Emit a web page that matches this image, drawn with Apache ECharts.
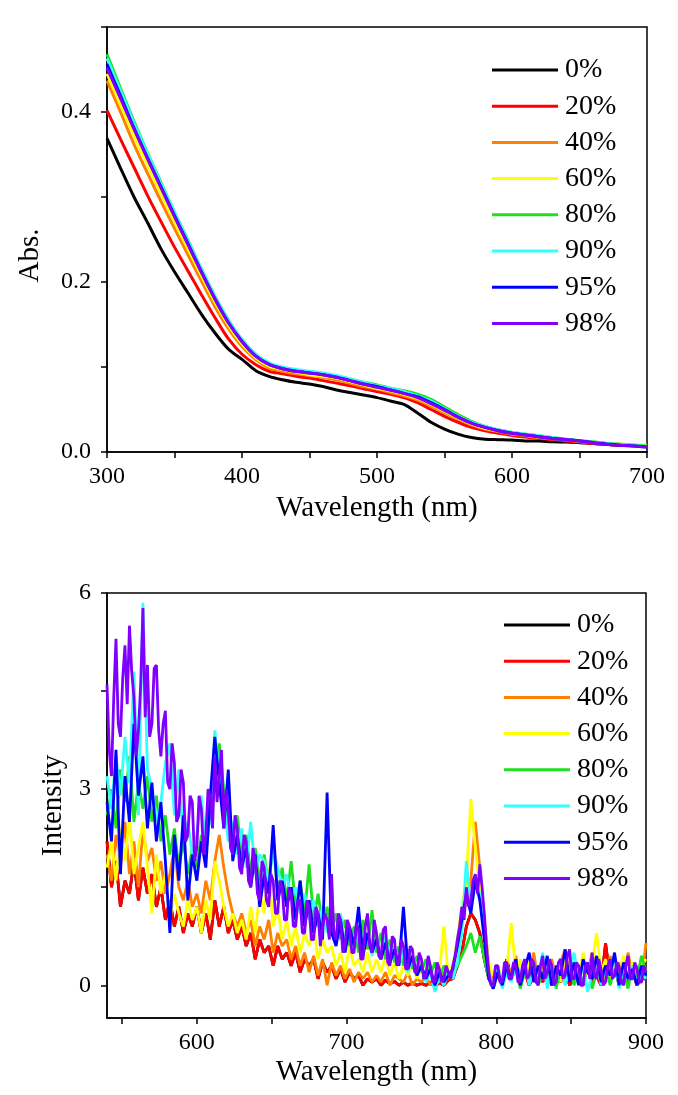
<!DOCTYPE html>
<html>
<head>
<meta charset="utf-8">
<script src="https://cdn.jsdelivr.net/npm/echarts@6/dist/echarts.min.js"></script>
<style>
html,body{margin:0;padding:0;background:#fff;}
#chart{width:678px;height:1095px;}
</style>
</head>
<body>
<div id="chart"></div>
<script>
// ---------- Data ----------
const seriesNames = ['0%', '20%', '40%', '60%', '80%', '90%', '95%', '98%'];
const colors = ['#000000', '#ff0000', '#ff8000', '#ffff00', '#1ee01e', '#33ffff', '#0000ff', '#8000ff'];

// Top panel: absorbance, wavelength 300-700 nm every 10 nm
const absWavelength = [300,310,320,330,340,350,360,370,380,390,400,410,420,430,440,450,460,470,480,490,500,510,520,530,540,550,560,570,580,590,600,610,620,630,640,650,660,670,680,690,700];
const abs0  = [0.369,0.334,0.300,0.270,0.239,0.212,0.187,0.162,0.140,0.121,0.109,0.096,0.089,0.085,0.082,0.080,0.077,0.073,0.070,0.067,0.064,0.060,0.056,0.046,0.035,0.027,0.021,0.017,0.015,0.0145,0.014,0.013,0.0128,0.012,0.0118,0.011,0.010,0.009,0.008,0.0075,0.0067];
const abs20 = [0.402,0.368,0.335,0.302,0.271,0.241,0.213,0.185,0.158,0.133,0.115,0.103,0.095,0.092,0.089,0.087,0.084,0.081,0.078,0.0745,0.071,0.068,0.064,0.058,0.050,0.042,0.035,0.029,0.025,0.022,0.0195,0.0175,0.016,0.0145,0.013,0.0115,0.010,0.009,0.008,0.0075,0.0067];
const abs40 = [0.437,0.400,0.362,0.328,0.295,0.263,0.232,0.201,0.171,0.145,0.124,0.109,0.099,0.095,0.092,0.090,0.088,0.085,0.081,0.077,0.074,0.070,0.066,0.061,0.054,0.046,0.039,0.032,0.027,0.024,0.021,0.019,0.017,0.0155,0.014,0.0125,0.011,0.010,0.009,0.0082,0.0075];
const abs60 = [0.445,0.409,0.372,0.338,0.304,0.271,0.239,0.207,0.176,0.149,0.127,0.111,0.101,0.097,0.094,0.091,0.089,0.087,0.083,0.079,0.075,0.072,0.068,0.063,0.056,0.048,0.040,0.033,0.028,0.025,0.022,0.020,0.018,0.016,0.0145,0.013,0.0115,0.0105,0.0095,0.0085,0.008];
const abs80 = [0.468,0.428,0.389,0.352,0.317,0.282,0.249,0.215,0.183,0.155,0.132,0.115,0.104,0.099,0.096,0.094,0.092,0.089,0.086,0.082,0.079,0.075,0.072,0.068,0.062,0.053,0.044,0.036,0.030,0.026,0.023,0.021,0.019,0.017,0.015,0.0135,0.012,0.010,0.009,0.008,0.007];
const abs90 = [0.463,0.425,0.387,0.351,0.316,0.282,0.248,0.215,0.183,0.155,0.132,0.115,0.105,0.100,0.097,0.095,0.093,0.090,0.086,0.082,0.078,0.075,0.071,0.066,0.060,0.051,0.042,0.035,0.030,0.026,0.023,0.021,0.019,0.017,0.015,0.013,0.0115,0.010,0.009,0.0075,0.0065];
const abs95 = [0.456,0.419,0.381,0.346,0.312,0.278,0.245,0.212,0.180,0.152,0.130,0.113,0.103,0.098,0.095,0.093,0.091,0.088,0.084,0.080,0.077,0.073,0.069,0.065,0.058,0.050,0.041,0.034,0.029,0.025,0.022,0.020,0.018,0.016,0.0145,0.013,0.011,0.0095,0.008,0.007,0.006];
const abs98 = [0.452,0.416,0.380,0.345,0.311,0.277,0.244,0.211,0.180,0.152,0.130,0.113,0.103,0.098,0.095,0.093,0.091,0.088,0.084,0.080,0.076,0.073,0.069,0.064,0.057,0.049,0.041,0.034,0.029,0.025,0.022,0.020,0.018,0.016,0.0145,0.013,0.011,0.009,0.008,0.007,0.006];

// Bottom panel: intensity, wavelength 540-900 nm every 3 nm
const plWavelength = [540,543,546,549,552,555,558,561,564,567,570,573,576,579,582,585,588,591,594,597,600,603,606,609,612,615,618,621,624,627,630,633,636,639,642,645,648,651,654,657,660,663,666,669,672,675,678,681,684,687,690,693,696,699,702,705,708,711,714,717,720,723,726,729,732,735,738,741,744,747,750,753,756,759,762,765,768,771,774,777,780,783,786,789,792,795,798,801,804,807,810,813,816,819,822,825,828,831,834,837,840,843,846,849,852,855,858,861,864,867,870,873,876,879,882,885,888,891,894,897,900];
const pl0 = [2.2,1.5,1.9,1.2,1.6,1.4,1.9,1.3,1.8,1.4, 1.7,1.2,1.5,1.0,1.3,0.9,1.2,0.8,1.1,0.9, 1.2,0.8,1.1,0.7,1.3,0.9,1.2,0.8,1.0,0.7, 0.9,0.6,0.8,0.4,0.7,0.5,0.6,0.3,0.6,0.4, 0.5,0.3,0.5,0.2,0.4,0.3,0.4,0.1,0.35,0.2, 0.3,0.1,0.25,0.05,0.2,0.1,0.15,0.0,0.1,0.05, 0.1,0.0,0.08,0.02,0.06,0.0,0.05,0.0,0.04,0.0, 0.03,0.0,0.05,-0.02,0.04,0.0,0.08,0.1,0.3,0.5, 0.9,1.1,1.0,0.8,0.4,0.1,0.05,0.15,0.0,0.4, 0.1,0.25,0.05,0.2,0.0,0.15,0.3,0.05,0.2,0.0, 0.15,0.05,0.25,0.0,0.1,0.2,0.0,0.35,0.05,0.15, 0.0,0.64,0.1,0.3,0.0,0.15,0.05,0.2,0.0,0.1, 0.1];
const pl20 = [2.2,1.5,1.9,1.2,1.6,1.4,1.9,1.3,1.8,1.4, 1.7,1.2,1.5,1.0,1.3,0.9,1.2,0.8,1.1,0.9, 1.2,0.8,1.1,0.7,1.3,0.9,1.2,0.8,1.0,0.7, 0.9,0.6,0.8,0.4,0.7,0.5,0.6,0.3,0.6,0.4, 0.5,0.3,0.5,0.2,0.4,0.3,0.4,0.1,0.35,0.2, 0.3,0.1,0.25,0.05,0.2,0.1,0.15,0.0,0.1,0.05, 0.1,0.0,0.08,0.02,0.06,0.0,0.05,0.0,0.04,0.0, 0.03,0.0,0.05,-0.02,0.04,0.0,0.08,0.1,0.3,0.5, 0.9,1.1,1.0,0.8,0.4,0.1,0.05,0.15,0.0,0.4, 0.1,0.25,0.05,0.2,0.0,0.15,0.3,0.05,0.2,0.0, 0.15,0.05,0.25,0.0,0.1,0.2,0.0,0.35,0.05,0.15, 0.0,0.64,0.1,0.3,0.0,0.15,0.05,0.2,0.0,0.1, 0.1];
const pl40 = [2.0,1.6,2.3,1.8,2.5,1.7,2.2,1.5,2.4,1.9, 2.1,1.6,1.9,1.4,1.7,2.1,1.5,1.3,1.6,1.2, 1.4,1.1,1.6,1.3,1.9,2.3,1.8,1.4,1.1,0.9, 1.1,0.8,1.0,0.6,0.9,0.7,1.0,0.5,0.8,0.6, 0.7,0.4,0.6,0.3,0.5,0.2,0.45,0.15,0.4,0.0, 0.35,0.15,0.3,0.1,0.25,0.05,0.2,0.1,0.2,0.05, 0.15,0.05,0.2,0.0,0.15,0.1,0.05,0.2,0.0,0.1, 0.05,0.15,0.0,0.1,0.05,0.2,0.1,0.3,0.6,1.0, 1.3,1.6,2.5,1.8,1.0,0.3,0.1,0.25,0.05,0.3, 0.2,0.45,0.1,0.35,0.15,0.5,0.05,0.3,0.2,0.4, 0.1,0.35,0.55,0.15,0.3,0.05,0.4,0.2,0.5,0.1, 0.3,0.05,0.45,0.2,0.35,0.1,0.5,0.15,0.3,0.05, 0.65];
const pl60 = [1.8,2.2,1.6,2.4,1.9,2.6,1.7,2.1,2.5,1.8, 1.1,2.0,1.4,1.7,1.0,1.4,1.1,0.9,1.3,1.0, 1.2,0.8,1.3,1.0,1.9,1.6,1.2,0.9,1.1,0.8, 1.0,0.7,1.2,0.8,1.4,1.1,1.8,0.9,1.2,0.7, 1.0,0.6,0.9,0.5,0.8,0.6,0.9,0.4,0.7,0.5, 0.6,0.3,0.5,0.2,0.6,0.3,0.4,0.2,0.5,0.2, 0.4,0.2,0.45,0.15,0.35,0.1,0.3,0.15,0.4,0.1, 0.25,0.1,0.3,0.05,0.2,0.9,0.15,0.3,0.7,1.2, 1.6,2.85,2.1,1.5,0.9,0.35,0.15,0.3,0.1,0.25, 0.95,0.2,0.4,0.1,0.35,0.05,0.3,0.15,0.45,0.1, 0.3,0.05,0.4,0.2,0.35,0.1,0.5,0.15,0.3,0.8, 0.2,0.4,0.05,0.3,0.15,0.45,0.1,0.35,0.2,0.3, 0.4];
const pl80 = [2.6,3.0,2.4,3.3,2.8,3.5,2.5,3.1,2.7,3.2, 2.5,2.9,2.2,2.6,2.0,2.4,1.8,2.2,1.7,2.1, 1.8,2.3,2.0,2.7,3.2,3.7,3.0,2.5,2.2,2.6, 2.0,2.3,1.7,2.1,1.6,2.0,1.5,2.2,1.4,1.8, 1.3,1.9,1.2,1.6,1.1,1.85,1.0,1.4,0.9,1.2, 0.8,1.1,0.7,1.0,0.6,0.9,0.5,1.0,0.55,1.15, 0.5,0.8,0.4,0.7,0.35,0.6,0.3,0.55,0.25,0.45, 0.2,0.4,0.15,0.35,0.1,0.3,0.15,0.2,0.3,0.45, 0.6,0.8,0.5,0.75,0.4,0.1,-0.05,0.2,0.0,0.25, 0.1,0.3,-0.05,0.2,0.05,0.35,0.0,0.2,0.1,0.3, -0.05,0.25,0.1,0.3,0.0,0.2,0.05,0.35,-0.05,0.2, 0.1,0.3,0.0,0.25,0.05,0.2,-0.05,0.3,0.1,0.45, 0.2];
const pl90 = [3.2,2.7,3.5,2.9,3.8,3.1,4.8,2.6,5.85,3.3, 3.0,2.5,2.8,3.4,3.7,2.6,3.3,2.2,2.5,2.0, 2.3,2.9,2.1,2.6,3.9,3.2,2.8,2.2,2.5,2.0, 2.4,1.8,2.5,1.7,2.0,1.9,1.6,2.1,1.8,1.5, 1.7,1.3,1.5,1.1,1.4,1.0,1.3,0.9,1.2,0.8, 1.0,0.7,1.1,0.6,0.9,0.55,1.0,0.5,0.8,0.45, 0.7,0.4,0.75,0.35,0.6,0.3,0.55,0.2,0.45,0.15, 0.3,0.05,0.2,-0.1,0.15,0.0,0.2,0.1,0.35,0.8, 1.9,1.2,1.6,1.4,0.9,0.2,0.0,0.3,-0.05,0.2, 0.05,0.3,0.1,0.4,0.0,0.25,0.15,0.5,-0.05,0.3, 0.1,0.35,0.0,0.25,0.5,0.05,0.3,-0.1,0.2,0.4, 0.0,0.3,0.15,0.45,-0.05,0.25,0.1,0.3,0.0,0.2, 0.1];
const pl95 = [2.8,2.2,3.6,1.7,3.2,2.5,4.0,2.9,3.5,2.4, 3.1,2.2,2.8,1.9,0.8,2.3,1.6,2.6,1.3,2.0, 1.6,2.2,1.8,2.9,3.8,3.1,2.4,3.3,1.9,2.3, 1.8,2.1,1.5,2.0,1.2,1.7,1.4,2.45,1.3,1.6, 1.2,1.5,1.0,1.6,0.9,1.3,0.8,1.1,0.7,2.95, 0.8,0.6,1.0,0.5,0.9,0.6,1.2,0.45,0.8,0.5, 0.7,0.4,0.65,0.35,0.55,0.3,1.2,0.25,0.45,0.15, 0.3,0.1,0.25,0.0,0.2,0.05,0.15,0.25,0.6,1.0, 1.4,1.1,1.6,1.3,0.7,0.1,-0.05,0.2,0.0,0.3, 0.1,0.4,0.0,0.25,0.5,0.05,0.3,0.1,0.45,0.0, 0.3,0.15,0.55,0.05,0.35,0.0,0.4,0.2,0.1,0.45, 0.05,0.3,0.15,0.5,0.0,0.35,0.1,0.25,0.0,0.3, 0.15];
// 98% sampled every 1.5 nm from 540 to 900 nm
const pl98Start = 540, pl98Step = 1.5;
const pl98 = [
 4.6,3.6, 3.2,4.4, 5.3,4.0, 3.8,4.7, 5.2,4.3, 5.5,4.8, 4.4,3.5, 3.9,4.6, 5.77,4.1, 4.9,3.8,
 4.0,4.85, 4.9,3.9, 3.5,4.0, 4.2,3.1, 3.0,3.7, 3.4,2.5, 2.6,3.3, 3.1,2.2, 2.3,2.9, 2.8,1.9,
 2.1,2.9, 2.7,2.0, 2.3,3.0, 2.9,2.4, 3.5,2.8, 3.2,3.6, 2.4,3.0, 2.7,2.1, 2.0,2.6, 2.4,1.8,
 1.7,2.3, 2.2,1.6, 1.5,2.1, 1.9,1.4, 1.3,1.9, 1.8,1.3, 1.2,1.7, 1.6,1.1, 1.1,1.6, 1.5,1.0,
 1.0,1.5, 1.4,0.9, 0.9,1.3, 1.3,0.8, 0.8,1.3, 1.2,0.7, 0.7,1.2, 1.1,0.6, 0.9,1.1, 1.0,0.7,
 1.7,0.8, 0.7,1.1, 1.0,0.5, 0.6,1.0, 0.9,0.5, 0.5,0.95, 0.85,0.4, 0.4,0.9, 1.1,0.6, 0.5,1.0,
 0.8,0.45, 0.4,0.85, 0.9,0.35, 0.3,0.75, 0.7,0.3, 0.35,0.7, 0.6,0.25, 0.25,0.6, 0.55,0.2, 0.2,0.5,
 0.4,0.1, 0.15,0.45, 0.3,0.05, 0.05,0.35, 0.25,0.05, 0.1,0.3, 0.2,0.1, 0.3,0.45, 0.7,0.9, 1.2,1.0,
 1.5,1.2, 1.3,1.6, 1.7,1.4, 1.85,1.5, 1.1,0.6, 0.2,0.0, 0.0,0.3, 0.3,0.05, 0.05,0.35, 0.35,0.1,
 0.1,0.35, 0.3,0.05, 0.05,0.3, 0.4,0.1, 0.15,0.4, 0.35,0.05, 0.0,0.3, 0.45,0.1, 0.2,0.4, 0.3,0.0,
 0.05,0.35, 0.4,0.1, 0.15,0.45, 0.55,0.1, 0.1,0.35, 0.3,0.0, 0.0,0.3, 0.35,0.1, 0.5,0.15, 0.1,0.4,
 0.25,0.0, 0.05,0.3, 0.4,0.1, 0.15,0.35, 0.3,0.05, 0.0,0.3, 0.45,0.1, 0.1,0.35, 0.25,0.05, 0.05,0.3,
 0.2];

const absData = [abs0, abs20, abs40, abs60, abs80, abs90, abs95, abs98];
const plData = [pl0, pl20, pl40, pl60, pl80, pl90, pl95];

// ---------- Chart ----------
const FONT = 'Liberation Serif';
const chart = echarts.init(document.getElementById('chart'), null, {renderer: 'canvas'});

function xAxisBase(gridIndex) {
  return {
    type: 'value', gridIndex: gridIndex,
    axisLine: {onZero: false, lineStyle: {color: '#000', width: 1.5}},
    axisTick: {show: true, length: 6, lineStyle: {color: '#000', width: 1.5}},
    axisLabel: {color: '#000', fontFamily: FONT, fontSize: 24, margin: 13},
    splitLine: {show: false},
    name: 'Wavelength (nm)', nameLocation: 'middle',
    nameTextStyle: {color: '#000', fontFamily: FONT, fontSize: 29}
  };
}
function yAxisBase(gridIndex) {
  return {
    type: 'value', gridIndex: gridIndex,
    axisLine: {show: true, onZero: false, lineStyle: {color: '#000', width: 1.5}},
    axisTick: {show: true, length: 6, lineStyle: {color: '#000', width: 1.5}},
    axisLabel: {color: '#000', fontFamily: FONT, fontSize: 24, margin: 16},
    splitLine: {show: false},
    nameLocation: 'middle', nameRotate: 90,
    nameTextStyle: {color: '#000', fontFamily: FONT, fontSize: 29}
  };
}

const xTop = xAxisBase(0);
Object.assign(xTop, {min: 300, max: 700, interval: 50, nameGap: 42});
xTop.axisLabel.formatter = v => (v % 100 === 0 ? String(v) : '');

const xBot = xAxisBase(1);
Object.assign(xBot, {min: 540, max: 900, nameGap: 40});
xBot.axisTick.customValues = [550,600,650,700,750,800,850,900];
xBot.axisLabel.customValues = [600,700,800,900];

const yTop = yAxisBase(0);
Object.assign(yTop, {min: 0, max: 0.5, interval: 0.1, name: 'Abs.', nameGap: 62});
yTop.nameTextStyle.padding = [0, 32, 0, 0];
yTop.axisLabel.formatter = v => {
  const k = Math.round(v * 10);
  return (k % 2 === 0 && k < 5) ? (k / 10).toFixed(1) : '';
};

const yBot = yAxisBase(1);
Object.assign(yBot, {min: -0.5, max: 6, name: 'Intensity', nameGap: 36});
yBot.axisTick.customValues = [0, 1.5, 3, 4.5, 6];
yBot.axisLabel.customValues = [0, 3, 6];

const series = [];
seriesNames.forEach((name, k) => {
  series.push({
    name: name, type: 'line', xAxisIndex: 0, yAxisIndex: 0,
    data: absWavelength.map((w, i) => [w, absData[k][i]]),
    showSymbol: false, smooth: 0.3, color: colors[k],
    lineStyle: {width: 3, color: colors[k]}, z: 2 + k
  });
});
seriesNames.forEach((name, k) => {
  const data = (k < 7)
    ? plWavelength.map((w, i) => [w, plData[k][i]])
    : pl98.map((v, i) => [pl98Start + i * pl98Step, v]);
  series.push({
    name: name, type: 'line', xAxisIndex: 1, yAxisIndex: 1,
    data: data,
    showSymbol: false, color: colors[k],
    lineStyle: {width: 2.8, color: colors[k]}, z: 2 + k
  });
});

function legendAt(left, top) {
  return {
    data: seriesNames.map(n => ({name: n, icon: 'rect'})),
    orient: 'vertical', left: left, top: top,
    itemWidth: 66, itemHeight: 3, itemGap: 8.2,
    selectedMode: false,
    textStyle: {color: '#000', fontFamily: FONT, fontSize: 28, lineHeight: 28, padding: [0, 0, 0, 2]}
  };
}

chart.setOption({
  animation: false,
  backgroundColor: '#ffffff',
  grid: [
    {left: 107, top: 27, width: 540, height: 425, show: true, borderColor: '#000', borderWidth: 1.5, backgroundColor: 'transparent'},
    {left: 107, top: 593, width: 539, height: 425, show: true, borderColor: '#000', borderWidth: 1.5, backgroundColor: 'transparent'}
  ],
  legend: [legendAt(487, 51), legendAt(499, 606)],
  xAxis: [xTop, xBot],
  yAxis: [yTop, yBot],
  series: series
});
</script>
</body>
</html>
